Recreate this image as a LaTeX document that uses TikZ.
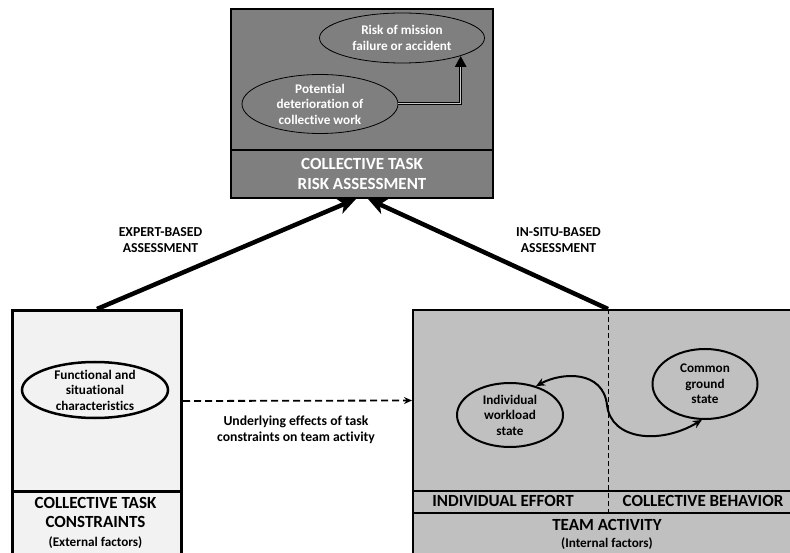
\documentclass[tikz,border=0pt]{standalone}
\usepackage{fontspec}
\setmainfont{Carlito}[Ligatures=NoCommon]
\usetikzlibrary{arrows.meta,shapes.geometric}
\definecolor{topgray}{RGB}{127,127,127}
\definecolor{leftfill}{RGB}{242,242,242}
\definecolor{rightfill}{RGB}{192,192,192}
\definecolor{inner}{RGB}{200,200,200}
\begin{document}
\begin{tikzpicture}[x=1pt,y=-1pt,
  panel/.style={rectangle, draw=black, inner sep=0pt, anchor=north west},
  lab/.style={font=\fontsize{13.7}{15.5}\selectfont\bfseries, align=center, inner sep=0pt},
  head/.style={font=\fontsize{17}{20}\selectfont\bfseries, align=center, inner sep=0pt},
  oval/.style={ellipse, inner sep=0pt},
  ovaltext/.style={font=\fontsize{13.2}{15.5}\selectfont\bfseries, align=center, inner sep=0pt},
  bigarrow/.style={line width=4.5pt, -{Stealth[length=18pt,width=16pt,inset=5pt]}},
]
\useasboundingbox (0,0) rectangle (790,553);
\clip (0,0) rectangle (790,553);

% top box
\node[panel, line width=2pt, fill=topgray, minimum width=262pt, minimum height=141pt] (topup) at (230,8) {};
\node[panel, line width=2pt, fill=topgray, minimum width=262pt, minimum height=48pt, text=white, head] (topfoot) at (230,149) {COLLECTIVE TASK\\RISK ASSESSMENT};
\node[oval, draw=black, line width=0.8pt, fill=topgray, minimum width=165pt, minimum height=50pt] (risk) at (402,38) {};
\node[ovaltext, text=white] (risktext) at (risk) {Risk of mission\\failure or accident};
\node[oval, draw=black, line width=0.8pt, fill=topgray, minimum width=156pt, minimum height=59pt] (pot) at (320,104) {};
\node[ovaltext, text=white] (pottext) at (pot) {Potential\\deterioration of\\collective work};
\draw[line width=3pt, -{Triangle[length=11pt,width=11pt]}] (pot.east) -| (risk.-17);
\draw[line width=1pt, inner, shorten >=11pt] (pot.east) -| (risk.-17);

% left box
\node[panel, line width=3pt, fill=leftfill, minimum width=169pt, minimum height=181pt] (leftup) at (11,309) {};
\node[panel, line width=3pt, fill=leftfill, minimum width=169pt, minimum height=80pt] (leftfoot) at (11,490) {};
\node[head, font=\fontsize{17}{19}\selectfont\bfseries] (lefthead) at (95.5,523) {COLLECTIVE TASK\\CONSTRAINTS\\{\fontsize{13.2}{15}\selectfont (External factors)}};
\node[oval, draw=black, line width=2.5pt, fill=leftfill, minimum width=146pt, minimum height=56pt] (func) at (95,390) {};
\node[ovaltext] (functext) at (func) {Functional and\\situational\\characteristics};

% right box
\node[panel, line width=2pt, fill=rightfill, minimum width=390pt, minimum height=181pt] (rightup) at (412,309) {};
\node[panel, line width=2pt, fill=rightfill, minimum width=390pt, minimum height=22pt] (row) at (412,490) {};
\node[panel, line width=2pt, fill=rightfill, minimum width=390pt, minimum height=60pt] (rightfoot) at (412,512) {};
\draw[dashed, line width=1pt, dash pattern=on 5pt off 3pt] (rightup.north) -- (row.south);
\node[head] (efforttext) at (503,501) {INDIVIDUAL EFFORT};
\node[head] (colltext) at (703,501) {COLLECTIVE BEHAVIOR};
\node[head, font=\fontsize{17}{17}\selectfont\bfseries] (righthead) at (607,534) {TEAM ACTIVITY\\{\fontsize{13.2}{15}\selectfont (Internal factors)}};
\node[oval, draw=black, line width=2pt, fill=rightfill, minimum width=106pt, minimum height=64pt] (ind) at (510,415) {};
\node[ovaltext] (indtext) at (ind) {Individual\\workload\\state};
\node[oval, draw=black, line width=2pt, fill=rightfill, minimum width=105pt, minimum height=70pt] (cg) at (705,384) {};
\node[ovaltext] (cgtext) at (cg) {Common\\ground\\state};
\draw[line width=2pt, {Stealth[length=9pt,width=8pt]}-{Stealth[length=9pt,width=8pt]}] (ind.48) .. controls (562,372) and (603,370) .. (607,405) .. controls (611,440) and (660,445) .. (cg.-95);

% connectors between boxes
\draw[bigarrow] (leftup.north) -- ([xshift=-6pt]topfoot.south);
\draw[bigarrow] (rightup.north) -- ([xshift=6pt]topfoot.south);
\draw[line width=1.8pt, dash pattern=on 7pt off 4pt, -{Stealth[length=8pt,width=7pt]}] (leftup.east) -- (rightup.west);

% labels
\node[lab] (expert) at (160.5,240) {EXPERT-BASED\\ASSESSMENT};
\node[lab] (insitu) at (558.5,240) {IN-SITU-BASED\\ASSESSMENT};
\node[lab] (under) at (296,430) {Underlying effects of task\\constraints on team activity};
\end{tikzpicture}
\end{document}
